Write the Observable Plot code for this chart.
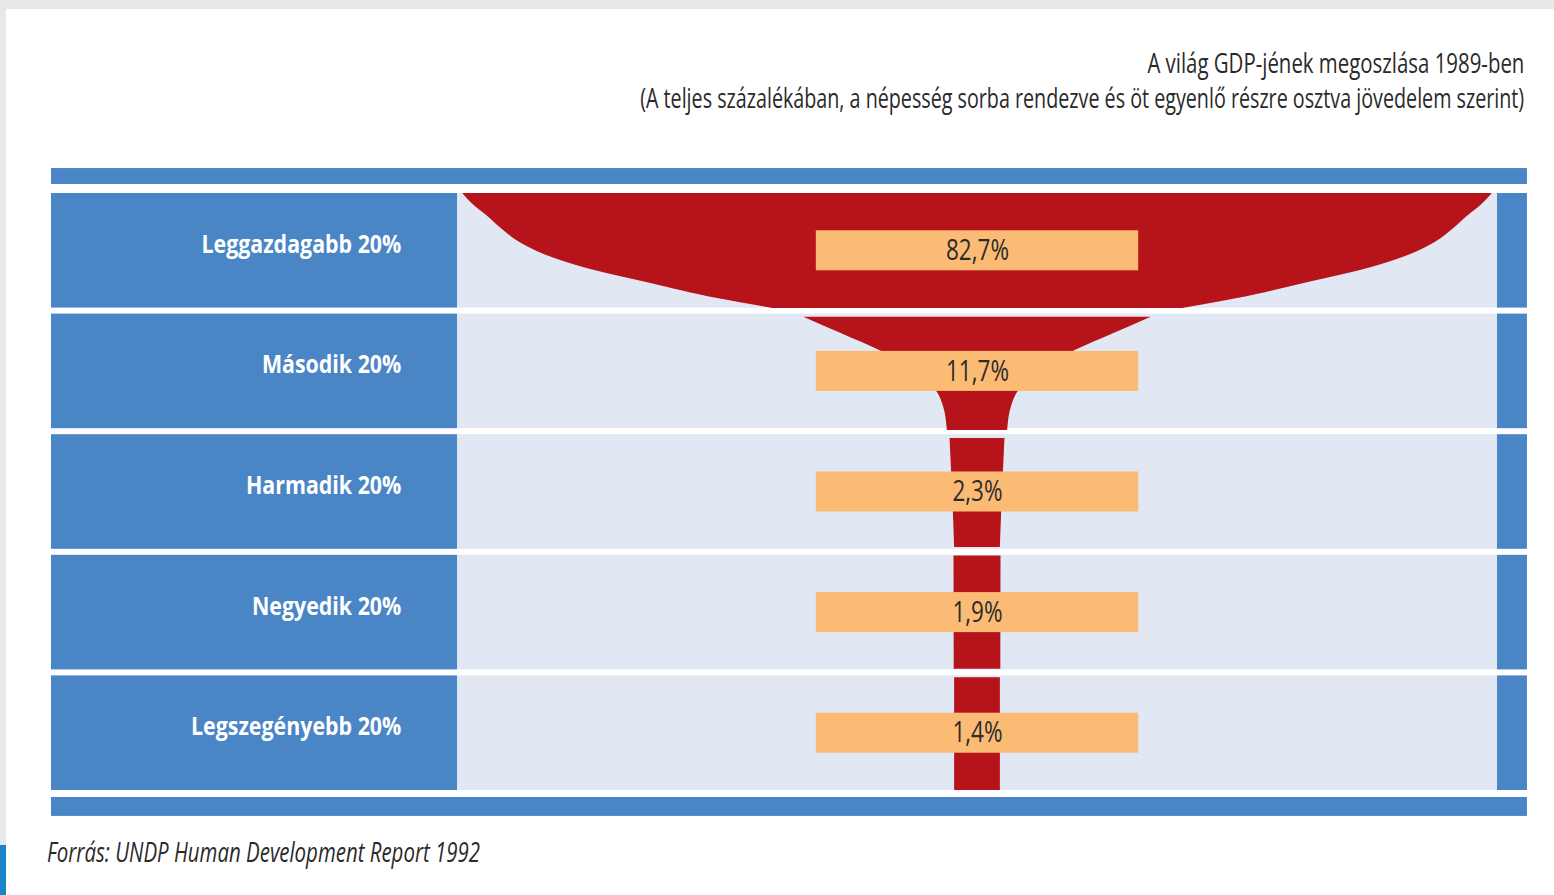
<!DOCTYPE html>
<html>
<head>
<meta charset="utf-8">
<script src="https://cdn.jsdelivr.net/npm/d3@7"></script>
<script src="https://cdn.jsdelivr.net/npm/@observablehq/plot@0.6"></script>
<style>
  html, body { margin: 0; padding: 0; }
  body { width: 1554px; height: 895px; background: #e8e8e8; position: relative; overflow: hidden; font-family: "Open Sans", sans-serif; }
  #page { position: absolute; left: 6px; top: 9px; right: 0; bottom: 0; background: #ffffff; }
  #corner { position: absolute; left: 0; top: 845px; width: 6px; height: 50px; background: #1a86c8; }
  .title-line { position: absolute; right: 30px; white-space: nowrap; font-size: 28px; line-height: 28px; color: #2a2a2a; }
  .title-line span { display: inline-block; transform-origin: right center; }
  #chart { position: absolute; left: 0; top: 150px; }
  #caption { position: absolute; left: 47px; top: 838px; white-space: nowrap; font-size: 27px; line-height: 27px; font-style: italic; color: #2a2a2a; }
  #caption span { display: inline-block; transform-origin: left center; }
</style>
</head>
<body>
<div id="page"></div>
<div id="corner"></div>
<div class="title-line" id="t1" style="top:48px"><span></span></div>
<div class="title-line" id="t2" style="top:83px"><span></span></div>
<div id="chart"></div>
<div id="caption"><span></span></div>
<script>
// ---- data ----
const titleLines = [
  "A világ GDP-jének megoszlása 1989-ben",
  "(A teljes százalékában, a népesség sorba rendezve és öt egyenlő részre osztva jövedelem szerint)"
];
const captionText = "Forrás: UNDP Human Development Report 1992";
const groups = ["Leggazdagabb 20%", "Második 20%", "Harmadik 20%", "Negyedik 20%", "Legszegényebb 20%"];
const shares = [82.7, 11.7, 2.3, 1.9, 1.4];
// outline of the "champagne glass":
// part = drawn piece, depth = position down the rows (0..5), halfWidth = half width on the x scale (-50..50)
const glassPart      = [0, 0, 0, 0, 0, 0, 0, 0, 0, 0,   1, 1, 1, 1, 1, 1,   2, 2, 2, 2,   3, 3,   4, 4];
const glassDepth     = [0.025, 0.124, 0.207, 0.315, 0.431, 0.556, 0.638, 0.771, 0.896, 0.978,
                        1.05, 1.19, 1.327, 1.675, 1.783, 1.99,
                        2.056, 2.32, 2.695, 2.96,
                        3.03, 3.97,
                        4.04, 4.975];
const glassHalfWidth = [49.5, 48.4, 47.2, 45.8, 44.0, 40.9, 37.9, 31.4, 25.0, 19.7,
                        16.7, 13.0, 9.4, 3.85, 3.3, 2.9,
                        2.64, 2.5, 2.31, 2.2,
                        2.26, 2.24,
                        2.2, 2.2];

// ---- tables ----
const rows = groups.map((g, i) => ({group: g, share: shares[i], i}));
const glass = glassDepth.map((d, k) => ({part: glassPart[k], depth: d, half: glassHalfWidth[k]}));

// ---- style / layout ----
const BLUE = "#4a85c6", LIGHT = "#e1e8f4", RED = "#b7131b", ORANGE = "#fbbb74", INK = "#2b2b2b";
const PANEL_L = -89.04, INNER_L = -50, INNER_R = 50, PANEL_R = 52.88;
const fmt = v => v.toFixed(1).replace(".", ",") + "%";

const chart = Plot.plot({
  width: 1554,
  height: 680,
  marginLeft: 457,
  marginRight: 57,
  marginTop: 40,
  marginBottom: 37,
  style: {background: "transparent", fontFamily: "'Open Sans', sans-serif"},
  x: {domain: [-50, 50], axis: null},
  y: {domain: [0, 5], reverse: true, axis: null},
  marks: [
    // top and bottom blue bars
    Plot.rect([0], {x1: () => PANEL_L, x2: () => PANEL_R, y1: () => -0.182, y2: () => -0.05, fill: BLUE}),
    Plot.rect([0], {x1: () => PANEL_L, x2: () => PANEL_R, y1: () => 5.033, y2: () => 5.19, fill: BLUE}),
    // row panels
    Plot.rect(rows, {x1: () => PANEL_L, x2: () => INNER_L, y1: d => d.i, y2: d => d.i + 1, insetTop: 3, insetBottom: 3, fill: BLUE}),
    Plot.rect(rows, {x1: () => INNER_L, x2: () => INNER_R, y1: d => d.i, y2: d => d.i + 1, insetTop: 3, insetBottom: 3, fill: LIGHT}),
    Plot.rect(rows, {x1: () => INNER_R, x2: () => PANEL_R, y1: d => d.i, y2: d => d.i + 1, insetTop: 3, insetBottom: 3, fill: BLUE}),
    // the glass
    Plot.areaX(glass, {y: "depth", x1: d => -d.half, x2: d => d.half, z: "part", fill: RED, curve: "monotone-y"}),
    // value boxes
    Plot.rect(rows, {x1: () => -15.5, x2: () => 15.5, y1: d => d.i + 0.334, y2: d => d.i + 0.666, fill: ORANGE}),
    Plot.text(rows, {x: () => -55.4, y: d => d.i + 0.5, text: "group", textAnchor: "end", fill: "white",
                     fontWeight: "bold", fontSize: 25, dy: -6}),
    Plot.text(rows, {x: () => 0, y: d => d.i + 0.5, text: d => fmt(d.share), fill: INK, fontSize: 29})
  ]
});
document.getElementById("chart").appendChild(chart);

// condensed look: squeeze text horizontally
const textGroups = chart.querySelectorAll('g[aria-label="text"]');
function squeezeSvg(g, target) {
  if (!g) return;
  const texts = g.querySelectorAll("text");
  if (!texts.length) return;
  const s = target / texts[0].getComputedTextLength();
  texts.forEach(t => {
    const tr = t.getAttribute("transform");
    if (tr) t.setAttribute("transform", tr + ` scale(${s},1)`);
    else {
      const x = +t.getAttribute("x") || 0;
      t.setAttribute("transform", `translate(${x},0) scale(${s},1) translate(${-x},0)`);
    }
  });
}
squeezeSvg(textGroups[0], 200);
squeezeSvg(textGroups[1], 63);

function squeezeHtml(span, text, target) {
  span.textContent = text;
  const w = span.getBoundingClientRect().width;
  span.style.transform = `scaleX(${target / w})`;
}
squeezeHtml(document.querySelector("#t1 span"), titleLines[0], 377);
squeezeHtml(document.querySelector("#t2 span"), titleLines[1], 884);
squeezeHtml(document.querySelector("#caption span"), captionText, 433);
</script>
</body>
</html>
